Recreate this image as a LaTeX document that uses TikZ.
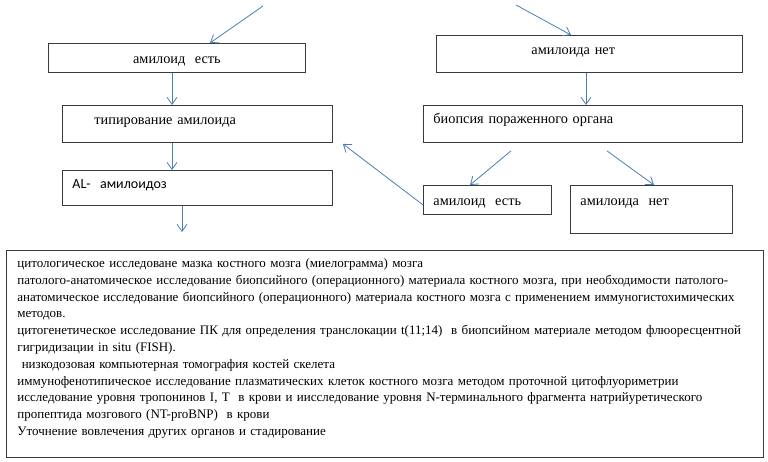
\documentclass[tikz,border=0pt]{standalone}
\usepackage{fontspec}
\setmainfont{Liberation Serif}
\newfontfamily\boxsans{Carlito}
\usepackage{xcolor}
\usepackage{tikz}
\usetikzlibrary{calc,positioning,arrows.meta}
\definecolor{Link}{HTML}{4A7EBB}
\definecolor{Frame}{HTML}{3A3A3A}

\begin{document}
\begin{tikzpicture}[x=1pt,y=-1pt,
  stepbox/.style={draw=Frame,line width=.9pt,rectangle,anchor=north west,inner ysep=0pt,align=left,font=\fontsize{14.3}{16}\selectfont},
  flow/.style={-{Straight Barb[length=7pt,width=10pt]},Link,line width=.8pt}]
\useasboundingbox (0,0) rectangle (768,462);
% left branch
\node[stepbox,inner xsep=4pt,text width=249pt,align=center,text height=20pt,text depth=9pt] (foundL) at (48,43) {амилоид\ \ есть};
\node[stepbox,inner xsep=32pt,text width=206pt,text height=19pt,text depth=18pt] (typing) at (62,105) {типирование амилоида};
\node[stepbox,inner xsep=10pt,text width=250pt,text height=18pt,text depth=17pt,font=\boxsans\fontsize{14}{16}\selectfont] (altype) at (62,170) {AL-\ \ амилоидоз};
% right branch
\node[stepbox,inner xsep=95pt,text width=116pt,text height=19pt,text depth=18pt] (noneR) at (436,35) {амилоида нет};
\node[stepbox,inner xsep=10pt,text width=299pt,text height=18pt,text depth=19pt] (biopsy) at (423,105) {биопсия пораженного органа};
\node[stepbox,inner xsep=10pt,text width=108pt,text height=20pt,text depth=9pt] (foundR) at (423,185) {амилоид\ \ есть};
\node[stepbox,inner xsep=10pt,text width=142pt,text height=20pt,text depth=28pt] (noneR2) at (570,185) {амилоида\ \ нет};
% work-up list
\node[stepbox,inner xsep=11pt,text width=735pt,text height=17pt,text depth=190pt,font=\fontsize{13}{16.8}\selectfont] (tests) at (6,250) {цитологическое исследоване мазка костного мозга (миелограмма) мозга\\
патолого-анатомическое исследование биопсийного (операционного) материала костного мозга, при необходимости патолого-\\
анатомическое исследование биопсийного (операционного) материала костного мозга с применением иммуногистохимических\\
методов.\\
цитогенетическое исследование ПК для определения транслокации t(11;14)\ \ в биопсийном материале методом флюоресцентной\\
гигридизации in situ (FISH).\\
\ низкодозовая компьютерная томография костей скелета\\
иммунофенотипическое исследование плазматических клеток костного мозга методом проточной цитофлуориметрии\\
исследование уровня тропонинов I, T\ \ в крови и иисследование уровня N-терминального фрагмента натрийуретического\\
пропептида мозгового (NT-proBNP)\ \ в крови\\
Уточнение вовлечения других органов и стадирование};
\coordinate (srcL) at (263,6);
\coordinate (srcR) at (516,5);
\coordinate (outAL) at (182,232);
\draw[flow] (srcL) -- ($(foundL.north west)+(162,0)$);
\draw[flow] ($(foundL.south west)+(124,0)$) coordinate (p1) -- (p1 |- typing.north);
\draw[flow] ($(typing.south west)+(110,0)$) coordinate (p2) -- (p2 |- altype.north);
\draw[flow] ($(altype.south west)+(120,0)$) -- (outAL);
\draw[flow] (srcR) -- ($(noneR.north west)+(135,0)$);
\draw[flow] ($(noneR.south west)+(150,0)$) coordinate (p3) -- (p3 |- biopsy.north);
\draw[flow] ($(biopsy.south west)+(88,8)$) -- ($(foundR.north west)+(47,0)$);
\draw[flow] ($(biopsy.south west)+(184,8)$) -- ($(noneR2.north west)+(84,0)$);
\draw[flow] ($(foundR.south west)+(0,-10)$) -- ($(typing.south east)+(10,1)$);
\end{tikzpicture}
\end{document}
